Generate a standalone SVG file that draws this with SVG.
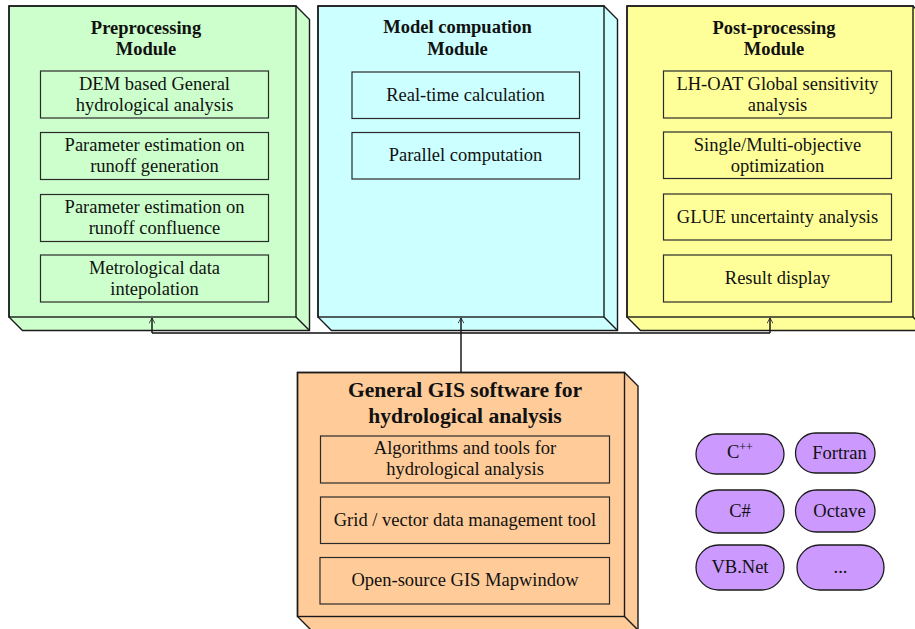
<svg xmlns="http://www.w3.org/2000/svg" width="915" height="629" viewBox="0 0 915 629">
  <defs>
    <style>
      .box { stroke: #1a1a1a; stroke-width: 1.4; stroke-linejoin: miter; }
      .edge { fill: none; stroke: #1a1a1a; stroke-width: 1.4; }
      .inner { fill: none; stroke: #2a2a2a; stroke-width: 1.2; }
      .t { font-family: "Liberation Serif", "Times New Roman", serif; font-size: 18.5px; fill: #111; text-anchor: middle; }
      .title { font-family: "Liberation Serif", "Times New Roman", serif; font-size: 18.5px; font-weight: bold; fill: #111; text-anchor: middle; }
      .big { font-family: "Liberation Serif", "Times New Roman", serif; font-size: 21.6px; font-weight: bold; fill: #111; text-anchor: middle; }
      .pill { fill: #cc99ff; stroke: #1a1a1a; stroke-width: 1.3; }
      .green { fill: #ccffcc; }
      .cyan { fill: #ccffff; }
      .yellow { fill: #ffff99; }
      .orange { fill: #ffcc99; }
      .link { fill: none; stroke: #1a1a1a; stroke-width: 1.5; }
      .bus { fill: none; stroke: #4a4a4a; stroke-width: 2; }
    </style>
    <marker id="openArrow" viewBox="0 0 10 10" refX="9" refY="5" markerWidth="8" markerHeight="6" markerUnits="userSpaceOnUse" orient="auto">
      <path d="M0,0 L9,5 L0,10" fill="none" stroke="#1a1a1a" stroke-width="1.3"/>
    </marker>
  </defs>

  <rect width="915" height="629" fill="#ffffff"/>

  <!-- Preprocessing module -->
  <g id="preprocessing">
    <path class="box green" d="M9,6 H296 L309.5,19.5 V330.5 H22.5 L9,317 Z"/>
    <rect class="edge" x="9" y="6" width="287" height="311"/>
    <path class="edge" d="M296,317 L309.5,330.5"/>
    <text class="title" x="146" y="33.5">Preprocessing</text>
    <text class="title" x="146" y="55">Module</text>
    <rect class="inner" x="40.5" y="71" width="228" height="47"/>
    <text class="t" x="154.5" y="90">DEM based General</text>
    <text class="t" x="154.5" y="111">hydrological analysis</text>
    <rect class="inner" x="40.5" y="132.5" width="228" height="47"/>
    <text class="t" x="154.5" y="151">Parameter estimation on</text>
    <text class="t" x="154.5" y="172">runoff generation</text>
    <rect class="inner" x="40.5" y="194.5" width="228" height="47"/>
    <text class="t" x="154.5" y="213">Parameter estimation on</text>
    <text class="t" x="154.5" y="234">runoff confluence</text>
    <rect class="inner" x="40.5" y="255" width="228" height="47"/>
    <text class="t" x="154.5" y="274">Metrological data</text>
    <text class="t" x="154.5" y="295">intepolation</text>
  </g>

  <!-- Model computation module -->
  <g id="model-computation">
    <path class="box cyan" d="M318,6 H604 L617.5,19.5 V330.5 H331.5 L318,317 Z"/>
    <rect class="edge" x="318" y="6" width="286" height="311"/>
    <path class="edge" d="M604,317 L617.5,330.5"/>
    <text class="title" x="457.5" y="33">Model compuation</text>
    <text class="title" x="457.5" y="55">Module</text>
    <rect class="inner" x="352" y="72" width="227.5" height="46.5"/>
    <text class="t" x="465.5" y="101">Real-time calculation</text>
    <rect class="inner" x="352" y="132.5" width="227.5" height="46.5"/>
    <text class="t" x="465.5" y="161">Parallel computation</text>
  </g>

  <!-- Post-processing module -->
  <g id="post-processing">
    <path class="box yellow" d="M627,6 H913 L926.5,19.5 V330.5 H640.5 L627,317 Z"/>
    <rect class="edge" x="627" y="6" width="286" height="311"/>
    <path class="edge" d="M913,317 L926.5,330.5"/>
    <text class="title" x="774" y="33.5">Post-processing</text>
    <text class="title" x="774" y="55">Module</text>
    <rect class="inner" x="663.5" y="71" width="228" height="47"/>
    <text class="t" x="777.5" y="90">LH-OAT Global sensitivity</text>
    <text class="t" x="777.5" y="111">analysis</text>
    <rect class="inner" x="663.5" y="132" width="228" height="46.5"/>
    <text class="t" x="777.5" y="151">Single/Multi-objective</text>
    <text class="t" x="777.5" y="172">optimization</text>
    <rect class="inner" x="663.5" y="194" width="228" height="46"/>
    <text class="t" x="777.5" y="223">GLUE uncertainty analysis</text>
    <rect class="inner" x="663.5" y="255" width="228" height="47"/>
    <text class="t" x="777.5" y="284">Result display</text>
  </g>

  <!-- GIS base module -->
  <g id="gis-software">
    <path class="box orange" d="M297.5,372.5 H624.5 L638,386 V630 H311 L297.5,616.5 Z"/>
    <rect class="edge" x="297.5" y="372.5" width="327" height="244"/>
    <path class="edge" d="M624.5,616.5 L638,630"/>
    <text class="big" x="465" y="397">General GIS software for</text>
    <text class="big" x="465" y="422.5">hydrological analysis</text>
    <rect class="inner" x="320.5" y="436" width="289" height="47"/>
    <text class="t" x="465" y="453.5">Algorithms and tools for</text>
    <text class="t" x="465" y="474.5">hydrological analysis</text>
    <rect class="inner" x="320.5" y="497" width="289" height="46.5"/>
    <text class="t" x="465" y="526">Grid / vector data management tool</text>
    <rect class="inner" x="320" y="557.5" width="289.5" height="46.5"/>
    <text class="t" x="465" y="586">Open-source GIS Mapwindow</text>
  </g>

  <!-- Programming languages -->
  <g id="lang-cpp">
    <rect class="pill" x="696" y="434" width="88" height="40" rx="20"/>
    <text class="t" x="727" y="458" style="text-anchor:start">C<tspan font-size="12" dy="-7">++</tspan></text>
  </g>
  <g id="lang-fortran">
    <rect class="pill" x="795.5" y="433" width="79.5" height="40" rx="20"/>
    <text class="t" x="839.5" y="459">Fortran</text>
  </g>
  <g id="lang-csharp">
    <rect class="pill" x="696" y="490" width="88" height="43" rx="21.5"/>
    <text class="t" x="740" y="517">C#</text>
  </g>
  <g id="lang-octave">
    <rect class="pill" x="795.5" y="490" width="79.5" height="42" rx="21"/>
    <text class="t" x="839.5" y="517">Octave</text>
  </g>
  <g id="lang-vbnet">
    <rect class="pill" x="696" y="545" width="88" height="45" rx="22.5"/>
    <text class="t" x="740" y="573">VB.Net</text>
  </g>
  <g id="lang-more">
    <rect class="pill" x="797" y="545" width="87" height="45" rx="22.5"/>
    <text class="t" x="840.5" y="573">...</text>
  </g>

  <!-- Connectors -->
  <g id="connectors">
    <path class="bus" d="M152,333 H770"/>
    <path class="link" d="M152,333 V318" marker-end="url(#openArrow)"/>
    <path class="link" d="M770,333 V318" marker-end="url(#openArrow)"/>
    <path class="link" d="M461,372.5 V318" marker-end="url(#openArrow)"/>
  </g>
</svg>
